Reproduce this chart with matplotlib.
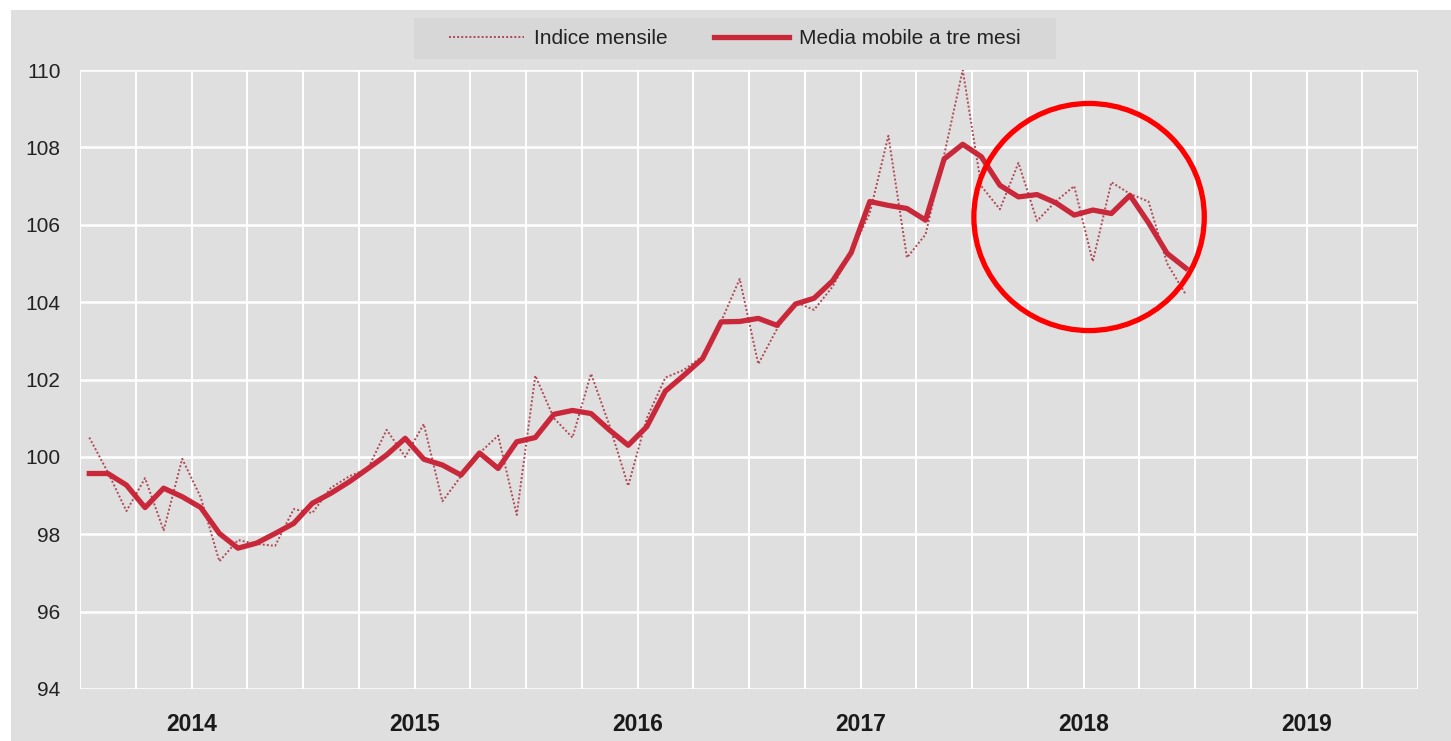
import numpy as np
import matplotlib
matplotlib.use("Agg")
import matplotlib.pyplot as plt
from matplotlib import font_manager
from matplotlib.patches import Rectangle, Ellipse

# ---------------- data ----------------
years = ["2014", "2015", "2016", "2017", "2018", "2019"]

indice_mensile = [
    # 2014
    100.5, 99.6, 98.6, 99.45, 98.1, 99.95, 98.95, 97.3, 97.85, 97.75, 97.7, 98.65,
    # 2015
    98.55, 99.2, 99.5, 99.7, 100.7, 100.0, 100.85, 98.85, 99.5, 100.1, 100.55, 98.5,
    # 2016
    102.1, 101.0, 100.5, 102.15, 100.8, 99.25, 101.0, 102.05, 102.25, 102.6, 103.5, 104.6,
    # 2017
    102.4, 103.3, 104.0, 103.8, 104.4, 105.3, 106.3, 108.3, 105.15, 105.75, 107.8, 110.0,
    # 2018
    107.0, 106.4, 107.6, 106.1, 106.6, 107.0, 105.05, 107.1, 106.8, 106.6, 105.0, 104.2,
]

media_mobile = [
    # 2014
    99.57, 99.57, 99.27, 98.69, 99.19, 98.97, 98.69, 98.02, 97.64, 97.77, 98.02, 98.28,
    # 2015
    98.80, 99.06, 99.36, 99.70, 100.05, 100.48, 99.94, 99.79, 99.53, 100.1, 99.7, 100.39,
    # 2016
    100.5, 101.1, 101.2, 101.12, 100.69, 100.3, 100.78, 101.7, 102.11, 102.54, 103.49, 103.5,
    # 2017
    103.58, 103.4, 103.95, 104.1, 104.55, 105.28, 106.6, 106.5, 106.42, 106.12, 107.7, 108.08,
    # 2018
    107.76, 107.02, 106.72, 106.78, 106.57, 106.25, 106.38, 106.29, 106.76, 106.05, 105.26, 104.88,
]

y_ticks = [94, 96, 98, 100, 102, 104, 106, 108, 110]

# ---------------- fonts ----------------
def pick(fam):
    try:
        font_manager.findfont(font_manager.FontProperties(family=fam), fallback_to_default=False)
        return fam
    except Exception:
        return None

regular = pick("Liberation Sans") or "DejaVu Sans"

# ---------------- figure ----------------
W, H = 1451, 741
fig = plt.figure(figsize=(W / 100, H / 100), dpi=100, facecolor="white")

panel = "#dfdfdf"
bg = Rectangle((11 / W, 0), 1 - 11 / W, 1 - 10 / H,
               transform=fig.transFigure, facecolor=panel,
               edgecolor="none", zorder=-10)
fig.patches.append(bg)
# legend box
lbox = Rectangle((414 / W, 1 - 59 / H), (1056 - 414) / W, 41 / H,
                 transform=fig.transFigure, facecolor="#d7d7d7",
                 edgecolor="none", zorder=-5)
fig.patches.append(lbox)

ax = fig.add_axes([80 / W, 1 - 689 / H, (1418 - 80) / W, (689 - 70) / H])
ax.set_zorder(2)
ax.set_facecolor(panel)

n_months = len(years) * 12
x = np.arange(len(indice_mensile)) + 0.5

ax.set_xlim(0, n_months)
ax.set_ylim(94, 110)

# grid
for q in range(0, n_months + 1, 3):
    ax.axvline(q, color="white", lw=1.4, zorder=1)
for yv in y_ticks:
    ax.axhline(yv, color="white", lw=1.8, zorder=1)

for s in ax.spines.values():
    s.set_visible(False)

ax.plot(x, indice_mensile, color="#b04856", lw=1.4, ls=(0, (1, 1.1)),
        zorder=3, label="Indice mensile")
ax.plot(x, media_mobile, color="#c9283a", lw=3.8, solid_joinstyle="round",
        zorder=4, label="Media mobile a tre mesi")

# y ticks
ax.set_yticks(y_ticks)
ax.set_yticklabels([str(v) for v in y_ticks], family=regular, fontsize=15, color="#222222")
ax.tick_params(axis="y", length=0, pad=14)

# x labels (years at centre of each year)
ax.set_xticks([])
ax.set_xticks([12 * i + 6 for i in range(len(years))], minor=True)
ax.set_xticklabels(years, minor=True, family=regular, fontweight="bold",
                   fontsize=16.5, color="#1a1a1a")
ax.tick_params(axis="x", which="both", length=0, pad=17)

# legend
leg = fig.legend(loc="center", bbox_to_anchor=(735 / W, 1 - 39 / H), ncol=2,
                 frameon=False, prop={"family": regular, "size": 15},
                 handlelength=3.6, handletextpad=0.5, columnspacing=2.2)
leg.set_zorder(5)
for t in leg.get_texts():
    t.set_color("#222222")

# red highlight circle
ax.add_patch(Ellipse((54.3, 106.2), width=12.4, height=5.87, fill=False,
                     edgecolor="#ff0000", lw=3.8, zorder=6, clip_on=False))

fig.savefig("out.png", dpi=100, facecolor=fig.get_facecolor())
